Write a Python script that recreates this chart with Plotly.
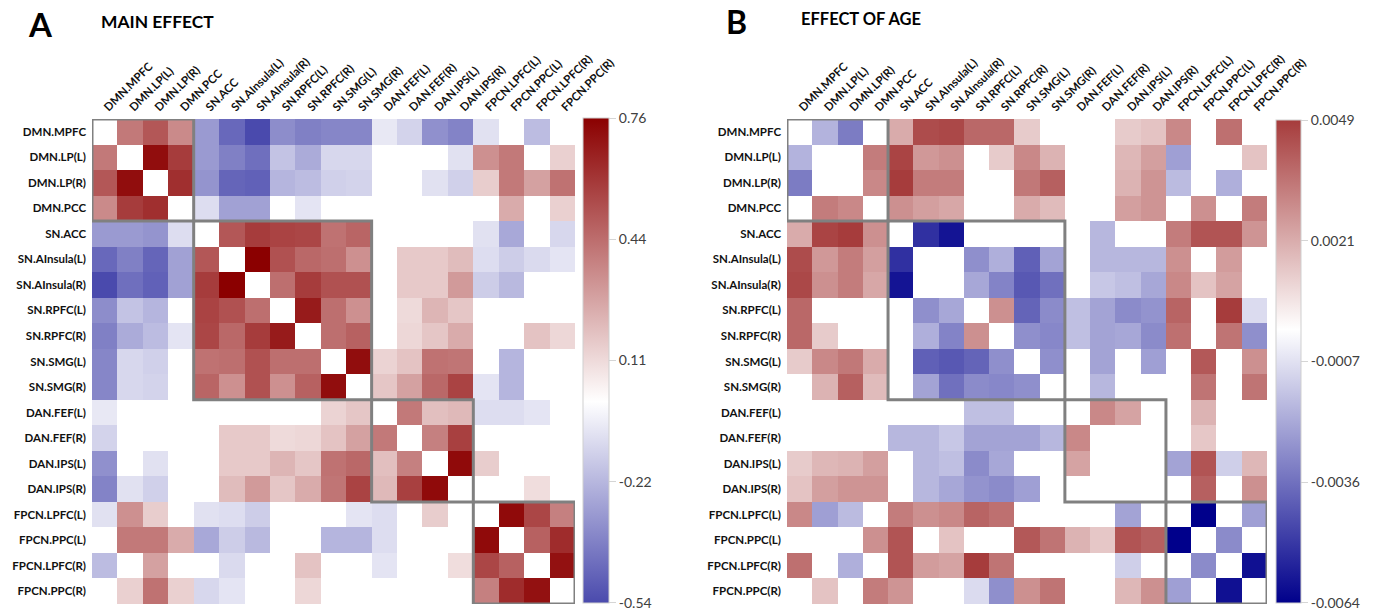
import numpy as np
import plotly.graph_objects as go

# Regions of interest, grouped by network
regions = [
    "DMN.MPFC", "DMN.LP(L)", "DMN.LP(R)", "DMN.PCC",
    "SN.ACC", "SN.AInsula(L)", "SN.AInsula(R)", "SN.RPFC(L)", "SN.RPFC(R)",
    "SN.SMG(L)", "SN.SMG(R)",
    "DAN.FEF(L)", "DAN.FEF(R)", "DAN.IPS(L)", "DAN.IPS(R)",
    "FPCN.LPFC(L)", "FPCN.PPC(L)", "FPCN.LPFC(R)", "FPCN.PPC(R)",
]
networks = ["DMN", "SN", "DAN", "FPCN"]

# Connectivity, lower triangle: row i holds the values against regions 0..i-1
# (0 = not significant, drawn white)
main_effect_lower = [
    [0.40],
    [0.50, 0.72],
    [0.35, 0.58, 0.62],
    [-0.30, -0.30, -0.32, -0.10],
    [-0.45, -0.38, -0.46, -0.28, 0.50],
    [-0.54, -0.43, -0.47, -0.28, 0.58, 0.76],
    [-0.34, -0.18, -0.22, 0, 0.56, 0.52, 0.43],
    [-0.38, -0.25, -0.20, -0.08, 0.55, 0.45, 0.58, 0.68],
    [-0.36, -0.12, -0.14, 0, 0.42, 0.43, 0.52, 0.43, 0.43],
    [-0.36, -0.12, -0.13, 0, 0.46, 0.33, 0.52, 0.33, 0.47, 0.72],
    [-0.07, 0, 0, 0, 0, 0, 0, 0, 0, 0.13, 0.17],
    [-0.13, 0, 0, 0, 0, 0.16, 0.16, 0.11, 0.12, 0.18, 0.28, 0.40],
    [-0.33, 0, -0.09, 0, 0, 0.16, 0.16, 0.22, 0.17, 0.42, 0.45, 0.19, 0.38],
    [-0.37, -0.09, -0.14, 0, 0, 0.20, 0.30, 0.17, 0.25, 0.41, 0.56, 0.21, 0.57, 0.73],
    [-0.09, 0.33, 0.15, 0, -0.09, -0.10, -0.15, 0, 0, 0, -0.08, -0.10, 0, 0.15, 0],
    [0, 0.40, 0.40, 0.25, -0.26, -0.15, -0.21, 0, 0, -0.22, -0.22, -0.10, 0, 0, 0, 0.73],
    [-0.20, 0, 0.28, 0, 0, -0.11, 0, 0, 0.18, 0, 0, -0.08, 0, 0, 0.10, 0.55, 0.47],
    [0, 0.14, 0.42, 0.14, -0.12, -0.08, 0, 0, 0.12, 0, 0, 0, 0, 0, 0, 0.38, 0.63, 0.71],
]

age_effect_lower = [
    [-0.0019],
    [-0.0033, 0],
    [0, 0.0033, 0.0030],
    [0.0021, 0.0047, 0.0049, 0.0028],
    [0.0045, 0.0026, 0.0033, 0.0024, -0.0052],
    [0.0046, 0.0028, 0.0033, 0.0022, -0.0059, 0],
    [0.0038, 0, 0, 0, 0, -0.0028, -0.0022],
    [0.0038, 0.0013, 0, 0, 0, -0.0020, -0.0031, 0.0028],
    [0.0013, 0.0030, 0.0034, 0.0021, 0, -0.0040, -0.0042, -0.0039, -0.0028],
    [0, 0.0019, 0.0040, 0.0017, 0, -0.0023, -0.0036, -0.0029, -0.0030, -0.0028],
    [0, 0, 0, 0, 0, 0, 0, -0.0016, -0.0016, 0, 0],
    [0, 0, 0, 0, -0.0018, -0.0018, -0.0014, -0.0023, -0.0023, -0.0023, -0.0018, 0.0030],
    [0.0013, 0.0018, 0.0019, 0.0024, 0, -0.0018, -0.0016, -0.0029, -0.0022, 0, 0, 0.0023, 0],
    [0.0015, 0.0024, 0.0027, 0.0027, 0, -0.0018, -0.0022, -0.0027, -0.0029, -0.0024, 0, 0, 0, 0],
    [0.0030, -0.0024, -0.0017, 0, 0.0033, 0.0028, 0.0030, 0.0039, 0.0036, 0, 0, 0, 0, -0.0023, 0],
    [0, 0, 0, 0.0028, 0.0043, 0, 0.0015, 0, 0, 0.0042, 0.0035, 0.0019, 0.0014, 0.0043, 0.0040, -0.0064],
    [0.0036, 0, -0.0020, 0, 0.0043, 0.0025, 0.0023, 0.0049, 0.0035, 0, 0, 0, 0, -0.0012, 0, 0, -0.0029],
    [0, 0.0015, 0, 0.0033, 0.0027, 0, 0, -0.0009, -0.0028, 0.0028, 0.0035, 0, 0, 0.0018, 0.0028, -0.0024, 0, -0.0060],
]

main_ticktext = ["-0.54", "-0.22", "0.11", "0.44", "0.76"]
age_ticktext = ["-0.0064", "-0.0036", "-0.0007", "0.0021", "0.0049"]

W, H = 1386, 610
LABEL_FONT = dict(family="Lato", size=11.5, color="#111111", weight="bold")
TICK_FONT = dict(family="Lato", size=14, color="#404040")
BOX_COLOR = "#808080"


def full_matrix(lower):
    n = len(regions)
    m = np.full((n, n), np.nan)
    for i, row in enumerate(lower, start=1):
        for j, v in enumerate(row):
            m[i, j] = v
            m[j, i] = v
    return m


def mix_with_white(rgb, t):
    return "rgb(%d,%d,%d)" % tuple(round(255 + (c - 255) * t) for c in rgb)


def diverging_scale(zmin, zmax):
    # dark blue - white - dark red, symmetric about zero
    m = max(abs(zmin), abs(zmax))
    lo = mix_with_white((0, 0, 139), abs(zmin) / m)
    hi = mix_with_white((139, 0, 0), abs(zmax) / m)
    mid = -zmin / (zmax - zmin)
    return [[0, lo], [mid, "rgb(255,255,255)"], [1, hi]]


def xdom(a, b):
    return [a / W, b / W]


def ydom(top, bottom):
    return [1 - bottom / H, 1 - top / H]


panels = [
    dict(lower=main_effect_lower, ticktext=main_ticktext, xd=(92, 575), yd=(119, 604),
         cb_x=583, cb_top=118, cb_bot=603, cb_th=26, ax=("x", "y")),
    dict(lower=age_effect_lower, ticktext=age_ticktext, xd=(787, 1267), yd=(119, 604),
         cb_x=1276, cb_top=120, cb_bot=603, cb_th=25, ax=("x2", "y2")),
]

fig = go.Figure()
layout = {}
shapes = []

# network block boundaries
net_of = [r.split(".")[0] for r in regions]
blocks = []
for net in networks:
    idx = [i for i, n in enumerate(net_of) if n == net]
    blocks.append((idx[0], idx[-1]))

for k, p in enumerate(panels):
    z = full_matrix(p["lower"])
    zmin, zmax = float(np.nanmin(z)), float(np.nanmax(z))
    span = zmax - zmin
    # evenly spaced colorbar ticks, kept a hair inside the ends so both end labels show
    tickvals = list(np.linspace(zmin + span * 1e-4, zmax - span * 1e-4, len(p["ticktext"])))
    fig.add_trace(go.Heatmap(
        z=z, x=regions, y=regions,
        xaxis=p["ax"][0], yaxis=p["ax"][1],
        zmin=zmin, zmax=zmax,
        colorscale=diverging_scale(zmin, zmax),
        hoverongaps=False,
        colorbar=dict(
            x=p["cb_x"] / W, xanchor="left", xpad=0,
            y=1 - (p["cb_top"] + p["cb_bot"]) / 2 / H, yanchor="middle", ypad=0,
            len=(p["cb_bot"] - p["cb_top"]) / H, lenmode="fraction",
            thickness=p["cb_th"], thicknessmode="pixels",
            outlinewidth=1, outlinecolor="#cfcfcf",
            tickmode="array", tickvals=tickvals, ticktext=p["ticktext"],
            ticks="outside", ticklen=7, tickcolor="#d5d5d5",
            tickfont=TICK_FONT, ticklabeloverflow="allow",
        ),
    ))
    suffix = "" if k == 0 else str(k + 1)
    layout["xaxis" + suffix] = dict(
        domain=xdom(*p["xd"]), anchor=p["ax"][1], side="top",
        type="category", range=[-0.5, len(regions) - 0.5],
        tickangle=-45, tickfont=LABEL_FONT, ticks="", ticklabelstandoff=2,
        showgrid=False, zeroline=False, showline=False, fixedrange=True,
        automargin=False,
    )
    layout["yaxis" + suffix] = dict(
        domain=ydom(*p["yd"]), anchor=p["ax"][0],
        type="category", range=[len(regions) - 0.5, -0.5],
        tickfont=LABEL_FONT, ticks="", ticklabelstandoff=5,
        showgrid=False, zeroline=False, showline=False, fixedrange=True,
        automargin=False,
    )
    for s, e in blocks:
        shapes.append(dict(
            type="rect", xref=p["ax"][0], yref=p["ax"][1],
            x0=s - 0.5, x1=e + 0.5, y0=s - 0.5, y1=e + 0.5,
            line=dict(color=BOX_COLOR, width=3), fillcolor="rgba(0,0,0,0)",
        ))

titles = [
    dict(text="A", x=26, y=24, size=33),
    dict(text="MAIN EFFECT", x=99, y=22, size=17.4),
    dict(text="B", x=724, y=22, size=32),
    dict(text="EFFECT OF AGE", x=799, y=19, size=16.5),
]
annotations = [
    dict(text=t["text"], x=t["x"] / W, y=1 - t["y"] / H, xref="paper", yref="paper",
         xanchor="left", yanchor="middle", showarrow=False,
         font=dict(family="Lato", size=t["size"], color="#000000", weight="bold"))
    for t in titles
]

fig.update_layout(
    width=W, height=H,
    margin=dict(l=0, r=0, t=0, b=0, pad=0, autoexpand=False),
    paper_bgcolor="white", plot_bgcolor="white",
    shapes=shapes, annotations=annotations,
    showlegend=False,
    **layout,
)

fig.write_html("out.html")
